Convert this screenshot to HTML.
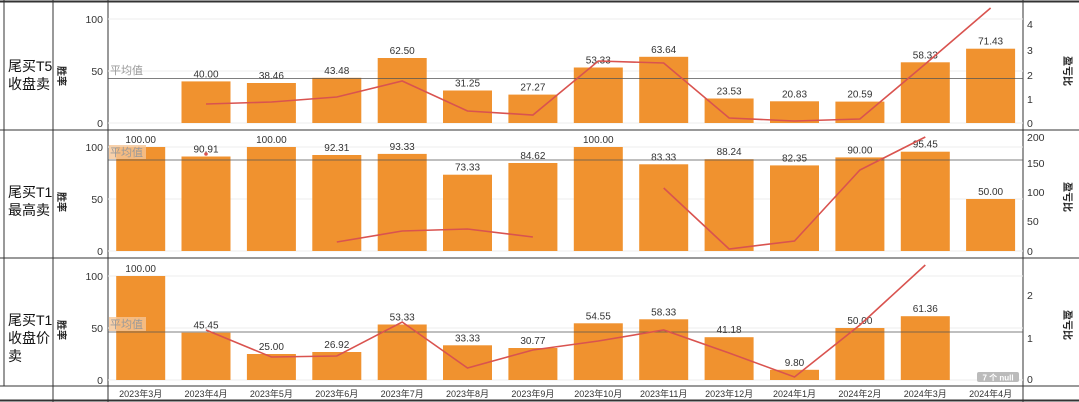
<!DOCTYPE html>
<html><head><meta charset="utf-8"><style>
body{margin:0;background:#fff}
svg{display:block;font-family:"Liberation Sans","Noto Sans CJK SC",sans-serif}
.b{fill:#F0922F}
.t{font-size:10px;fill:#333;text-anchor:middle}
.ax{font-size:10.5px;fill:#333}
.ln{fill:none;stroke:#D9534F;stroke-width:1.6}
.g{stroke:#eee;stroke-width:1}
.m{font-size:9px;fill:#333;text-anchor:middle}
.lab{font-size:14px;fill:#111;font-family:"Liberation Sans","Noto Sans CJK SC",sans-serif}
</style></head><body>
<svg width="1079" height="402" viewBox="0 0 1079 402">
<g stroke="#333" stroke-width="1">
<line x1="0" y1="1.5" x2="1079" y2="1.5" stroke-width="2"/>
<line x1="0" y1="130" x2="1079" y2="130"/>
<line x1="0" y1="258" x2="1079" y2="258"/>
<line x1="0" y1="386" x2="1079" y2="386"/>
<line x1="0" y1="400.5" x2="1079" y2="400.5" stroke-width="2"/>
<line x1="4" y1="0" x2="4" y2="386"/>
<line x1="53" y1="0" x2="53" y2="402"/>
<line x1="108" y1="0" x2="108" y2="402"/>
<line x1="1023" y1="0" x2="1023" y2="402"/>
</g>
<g class="g">
<line x1="108" y1="19" x2="1023" y2="19"/><line x1="108" y1="71" x2="1023" y2="71"/><line x1="108" y1="123" x2="1023" y2="123"/>
<line x1="108" y1="147" x2="1023" y2="147"/><line x1="108" y1="199" x2="1023" y2="199"/><line x1="108" y1="251" x2="1023" y2="251"/>
<line x1="108" y1="276" x2="1023" y2="276"/><line x1="108" y1="328" x2="1023" y2="328"/><line x1="108" y1="380" x2="1023" y2="380"/>
</g>
<text class="lab" x="-4" y="71">]</text>
<text class="lab" x="8" y="71">尾买T5</text><text class="lab" x="8" y="89">收盘卖</text>
<text class="lab" x="8" y="197">尾买T1</text><text class="lab" x="8" y="215">最高卖</text>
<text class="lab" x="8" y="325">尾买T1</text><text class="lab" x="8" y="343">收盘价</text><text class="lab" x="8" y="361">卖</text>
<g font-size="10" fill="#222" font-weight="bold">
<text transform="translate(58,66) rotate(90)">胜率</text>
<text transform="translate(58,192) rotate(90)">胜率</text>
<text transform="translate(58,320) rotate(90)">胜率</text>
<text transform="translate(1064,56) rotate(90)">盈亏比</text>
<text transform="translate(1064,182) rotate(90)">盈亏比</text>
<text transform="translate(1064,310) rotate(90)">盈亏比</text>
</g>
<g class="ax" text-anchor="end">
<text x="103" y="23">100</text><text x="103" y="75">50</text><text x="103" y="127">0</text>
<text x="103" y="151">100</text><text x="103" y="203">50</text><text x="103" y="255">0</text>
<text x="103" y="280">100</text><text x="103" y="332">50</text><text x="103" y="384">0</text>
</g>
<g class="ax">
<text x="1027" y="28">4</text><text x="1027" y="54">3</text><text x="1027" y="79">2</text><text x="1027" y="103">1</text><text x="1027" y="127">0</text>
<text x="1027" y="141">200</text><text x="1027" y="167">150</text><text x="1027" y="196">100</text><text x="1027" y="225">50</text><text x="1027" y="255">0</text>
<text x="1027" y="299">2</text><text x="1027" y="342">1</text><text x="1027" y="383">0</text>
</g>
<g class="b">
<rect x="181.5" y="81.4" width="49" height="41.6"/><rect x="246.9" y="83" width="49" height="40"/><rect x="312.3" y="77.8" width="49" height="45.2"/><rect x="377.7" y="58" width="49" height="65"/><rect x="443" y="90.5" width="49" height="32.5"/><rect x="508.4" y="94.6" width="49" height="28.4"/><rect x="573.8" y="67.5" width="49" height="55.5"/><rect x="639.2" y="56.8" width="49" height="66.2"/><rect x="704.6" y="98.5" width="49" height="24.5"/><rect x="770" y="101.3" width="49" height="21.7"/><rect x="835.4" y="101.6" width="49" height="21.4"/><rect x="900.8" y="62.3" width="49" height="60.7"/><rect x="966.1" y="48.7" width="49" height="74.3"/>
</g>
<g class="t">
<text x="206" y="77.4">40.00</text><text x="271.4" y="79">38.46</text><text x="336.8" y="73.8">43.48</text><text x="402.2" y="54">62.50</text><text x="467.5" y="86.5">31.25</text><text x="532.9" y="90.6">27.27</text><text x="598.3" y="63.5">53.33</text><text x="663.7" y="52.8">63.64</text><text x="729.1" y="94.5">23.53</text><text x="794.5" y="97.3">20.83</text><text x="859.9" y="97.6">20.59</text><text x="925.3" y="58.3">58.33</text><text x="990.6" y="44.7">71.43</text>
</g>
<line x1="108" y1="78.5" x2="1023" y2="78.5" stroke="#555" stroke-width="0.8"/>
<text x="110" y="74" font-size="11" fill="#999">平均值</text>
<polyline class="ln" points="206,104 271.4,102 336.8,97 402.2,81 467.5,111 532.9,115 598.3,61 663.7,63 729.1,118 794.5,121 859.9,119 925.3,64 990.6,8"/>
<g class="b">
<rect x="116.2" y="147" width="49" height="104"/><rect x="181.5" y="156.5" width="49" height="94.5"/><rect x="246.9" y="147" width="49" height="104"/><rect x="312.3" y="155" width="49" height="96"/><rect x="377.7" y="153.9" width="49" height="97.1"/><rect x="443" y="174.7" width="49" height="76.3"/><rect x="508.4" y="163" width="49" height="88"/><rect x="573.8" y="147" width="49" height="104"/><rect x="639.2" y="164.3" width="49" height="86.7"/><rect x="704.6" y="159.2" width="49" height="91.8"/><rect x="770" y="165.4" width="49" height="85.6"/><rect x="835.4" y="157.4" width="49" height="93.6"/><rect x="900.8" y="151.7" width="49" height="99.3"/><rect x="966.1" y="199" width="49" height="52"/>
</g>
<g class="t">
<text x="140.7" y="143">100.00</text><text x="206" y="152.5">90.91</text><text x="271.4" y="143">100.00</text><text x="336.8" y="151">92.31</text><text x="402.2" y="149.9">93.33</text><text x="467.5" y="170.7">73.33</text><text x="532.9" y="159">84.62</text><text x="598.3" y="143">100.00</text><text x="663.7" y="160.3">83.33</text><text x="729.1" y="155.2">88.24</text><text x="794.5" y="161.4">82.35</text><text x="859.9" y="153.4">90.00</text><text x="925.3" y="147.7">95.45</text><text x="990.6" y="195">50.00</text>
</g>
<line x1="108" y1="160" x2="1023" y2="160" stroke="#555" stroke-width="0.8"/>
<rect x="109" y="145" width="37" height="14" fill="#F6C596" opacity="0.8"/>
<text x="110" y="156" font-size="11" fill="#999">平均值</text>
<circle cx="206" cy="154" r="1.8" fill="#D9534F"/>
<polyline class="ln" points="336.8,242 402.2,231 467.5,229 532.9,237"/>
<polyline class="ln" points="663.7,188 729.1,249 794.5,241 859.9,170 925.3,137"/>
<g class="b">
<rect x="116.2" y="276" width="49" height="104"/><rect x="181.5" y="332.7" width="49" height="47.3"/><rect x="246.9" y="354" width="49" height="26"/><rect x="312.3" y="352" width="49" height="28"/><rect x="377.7" y="324.5" width="49" height="55.5"/><rect x="443" y="345.3" width="49" height="34.7"/><rect x="508.4" y="348" width="49" height="32"/><rect x="573.8" y="323.3" width="49" height="56.7"/><rect x="639.2" y="319.3" width="49" height="60.7"/><rect x="704.6" y="337.2" width="49" height="42.8"/><rect x="770" y="369.8" width="49" height="10.2"/><rect x="835.4" y="328" width="49" height="52"/><rect x="900.8" y="316.2" width="49" height="63.8"/>
</g>
<g class="t">
<text x="140.7" y="272">100.00</text><text x="206" y="328.7">45.45</text><text x="271.4" y="350">25.00</text><text x="336.8" y="348">26.92</text><text x="402.2" y="320.5">53.33</text><text x="467.5" y="341.3">33.33</text><text x="532.9" y="344">30.77</text><text x="598.3" y="319.3">54.55</text><text x="663.7" y="315.3">58.33</text><text x="729.1" y="333.2">41.18</text><text x="794.5" y="365.8">9.80</text><text x="859.9" y="324">50.00</text><text x="925.3" y="312.2">61.36</text>
</g>
<line x1="108" y1="332" x2="1023" y2="332" stroke="#555" stroke-width="0.8"/>
<rect x="109" y="317" width="37" height="14" fill="#F6C596" opacity="0.8"/>
<text x="110" y="328" font-size="11" fill="#999">平均值</text>
<polyline class="ln" points="206,330 271.4,357 336.8,356 402.2,322 467.5,368 532.9,350 598.3,341 663.7,330 729.1,353 794.5,377 859.9,325 925.3,265"/>
<rect x="977" y="372" width="42" height="10" rx="2" fill="#bbb"/>
<text x="998" y="380.5" font-size="8" fill="#fff" text-anchor="middle" font-weight="bold">7 个 null</text>
<g class="m">
<text x="140.7" y="397">2023年3月</text><text x="206" y="397">2023年4月</text><text x="271.4" y="397">2023年5月</text><text x="336.8" y="397">2023年6月</text><text x="402.2" y="397">2023年7月</text><text x="467.5" y="397">2023年8月</text><text x="532.9" y="397">2023年9月</text><text x="598.3" y="397">2023年10月</text><text x="663.7" y="397">2023年11月</text><text x="729.1" y="397">2023年12月</text><text x="794.5" y="397">2024年1月</text><text x="859.9" y="397">2024年2月</text><text x="925.3" y="397">2024年3月</text><text x="990.6" y="397">2024年4月</text>
</g>
</svg>
</body></html>
